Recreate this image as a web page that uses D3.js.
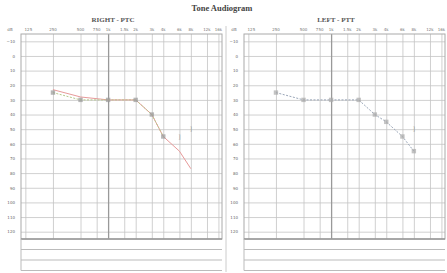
<!DOCTYPE html>
<html><head><meta charset="utf-8">
<script src="https://cdn.jsdelivr.net/npm/d3@7"></script>
<style>body{margin:0;background:#fff}svg{display:block}</style>
</head><body>
<script>
// ---- data ----
const freqs = [125,250,500,750,1000,1500,2000,3000,4000,6000,8000,12000,16000];
const freqLabels = ["125","250","500","750","1k","1.5k","2k","3k","4k","6k","8k","12k","16k"];
const dbTicks = [-10,0,10,20,30,40,50,60,70,80,90,100,110,120];
const rightAirFreq = [250,500,1000,2000,3000,4000,6000,8000];
const rightAirDb   = [23,28,30,30,40,55,65,77];
const rightBoneFreq = [250,500,1000,2000,3000,4000];
const rightBoneDb   = [25,30,30,30,40,55];
const rightExtraFreq = [6000,8000];
const rightExtraDb   = [55,50];
const leftAirFreq = [250,500,1000,2000,3000,4000,6000,8000];
const leftAirDb   = [25,30,30,30,40,45,55,65];
const leftExtraFreq = [8000];
const leftExtraDb   = [50];
const title = "Tone Audiogram";
const panelTitles = ["RIGHT - PTC","LEFT - PTT"];

const W=447,H=273;
const svg=d3.select("body").append("svg").attr("width",W).attr("height",H);
svg.append("rect").attr("width",W).attr("height",H).attr("fill","#fff");

const pw=201, ph=205, plotTop=34;
const x=d3.scaleLog().domain([112,17500]).range([0,pw]);
const y=d3.scaleLinear().domain([-15,125]).range([0,ph]);

svg.append("text").attr("x",222).attr("y",11).attr("text-anchor","middle")
  .attr("font-family","Liberation Serif").attr("font-weight","bold").attr("font-size",8.5)
  .attr("fill","#444").text(title);

function panel(x0, name, labelCol, colLine, series, extras){
  const g=svg.append("g").attr("transform",`translate(${x0},${plotTop})`);
  svg.append("text").attr("x",x0+92).attr("y",22).attr("text-anchor","middle")
    .attr("font-family","Liberation Serif").attr("font-weight","bold").attr("font-size",7)
    .attr("fill","#555").text(name);
  g.append("text").attr("x",-labelCol/2-1).attr("y",-3).attr("text-anchor","middle")
    .attr("font-family","DejaVu Sans").attr("font-size",4).attr("fill","#777").text("dB");
  freqs.forEach((f,i)=>{
    g.append("text").attr("x",x(f)+ (i===0?3:0)).attr("y",-3).attr("text-anchor","middle")
      .attr("font-family","DejaVu Sans").attr("font-size",4).attr("fill","#777").text(freqLabels[i]);
  });
  const yAxis=d3.axisLeft(y).tickValues(dbTicks).tickSize(-pw).tickFormat(d3.format("d"));
  const ya=g.append("g").call(yAxis);
  ya.select(".domain").remove();
  ya.selectAll("line").attr("stroke","#c4c4c4").attr("stroke-width",0.8);
  ya.selectAll("text").attr("x",-6).attr("font-size",4).attr("fill","#666").attr("font-family","DejaVu Sans");
  const xAxis=d3.axisTop(x).tickValues(freqs).tickSize(-ph).tickFormat("");
  const xa=g.append("g").call(xAxis);
  xa.select(".domain").remove();
  xa.selectAll("line").attr("stroke",d=>d===1000?"#999":"#c4c4c4").attr("stroke-width",d=>d===1000?1.3:0.8);
  g.append("rect").attr("width",pw).attr("height",ph).attr("fill","none").attr("stroke","#aaa").attr("stroke-width",1);
  if(colLine) g.append("line").attr("x1",-labelCol).attr("x2",-labelCol).attr("y1",-8).attr("y2",ph+33).attr("stroke","#ccc");
  const tb=g.append("g").attr("transform",`translate(0,${ph})`);
  [0,10.5,21,31.5].forEach((r,i)=>{
    tb.append("line").attr("x1",0).attr("x2",pw).attr("y1",r).attr("y2",r)
      .attr("stroke",i===0?"#999":"#bbb").attr("stroke-width",i===0?1.5:1);
  });
  tb.append("line").attr("x1",0).attr("x2",0).attr("y1",0).attr("y2",31.5).attr("stroke","#bbb");
  series.forEach(s=>{
    const pts=s.f.map((f,i)=>[x(f),y(s.db[i])]);
    g.append("path").attr("d",d3.line()(pts)).attr("fill","none").attr("stroke",s.color)
      .attr("stroke-width",s.w).attr("stroke-dasharray",s.dash||null).attr("opacity",s.op||1);
    if(s.marker){
      g.selectAll(null).data(pts).join("rect").attr("x",d=>d[0]-2.2).attr("y",d=>d[1]-2.2)
        .attr("width",4.4).attr("height",4.4).attr("fill",s.marker).attr("opacity",0.7);
    }
  });
  extras.forEach(e=>{
    e.f.forEach((f,i)=>{
      g.append("text").attr("x",x(f)).attr("y",y(e.db[i])+2).attr("text-anchor","middle")
        .attr("font-size",6).attr("fill","#999").attr("font-family","DejaVu Sans").text("]");
    });
  });
}
panel(21,panelTitles[0],20,false,[
  {f:rightAirFreq,db:rightAirDb,color:"#e79a9a",w:1},
  {f:rightBoneFreq,db:rightBoneDb,color:"#b5c98a",w:1,dash:"2,1.5",marker:"#999"}
],[{f:rightExtraFreq,db:rightExtraDb}]);
panel(244,panelTitles[1],18,true,[
  {f:leftAirFreq,db:leftAirDb,color:"#9aa6b8",w:1,dash:"2,1.5",marker:"#aaa"}
],[{f:leftExtraFreq,db:leftExtraDb}]);
</script>
</body></html>
